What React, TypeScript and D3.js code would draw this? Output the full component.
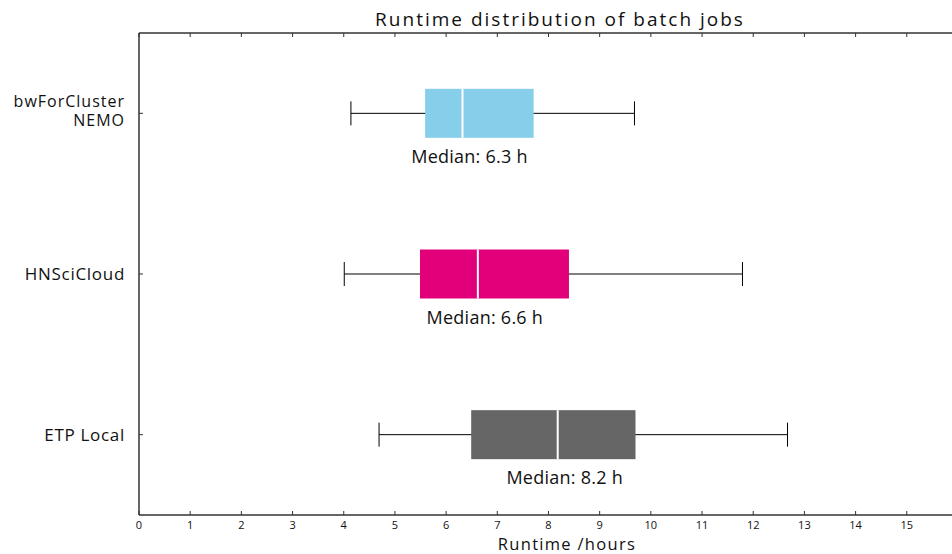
import React, { useRef, useEffect } from "react";
import * as d3 from "d3";

const categories = ["bwForCluster\nNEMO", "HNSciCloud", "ETP Local"];
const whiskerLow = [4.14, 4.01, 4.69];
const q1 = [5.59, 5.49, 6.49];
const medians = [6.32, 6.62, 8.18];
const q3 = [7.71, 8.4, 9.7];
const whiskerHigh = [9.68, 11.79, 12.67];
const medianLabels = ["Median: 6.3 h", "Median: 6.6 h", "Median: 8.2 h"];
const boxColors = ["#87CEEB", "#E2007A", "#666666"];
const xTicks = [0, 1, 2, 3, 4, 5, 6, 7, 8, 9, 10, 11, 12, 13, 14, 15];

const FONT = "'Open Sans', 'DejaVu Sans', sans-serif";

const App: React.FC = () => {
  const ref = useRef<SVGSVGElement | null>(null);

  useEffect(() => {
    document.body.style.margin = "0";
    if (!ref.current) return;
    const svg = d3.select(ref.current);
    svg.selectAll("*").remove();

    const width = 952;
    const height = 554;
    const left = 139;
    const top = 33;
    const bottom = 515;

    const x = d3.scaleLinear().domain([0, 16.45]).range([left, 981]);
    const y = d3.scaleBand().domain(categories).range([top, bottom]).padding(0);

    svg.attr("width", width).attr("height", height).style("font-family", FONT)
      .style("display", "block");

    const axisColor = "#333";

    // frame lines
    svg.append("line").attr("x1", left).attr("x2", width).attr("y1", top).attr("y2", top)
      .attr("stroke", axisColor).attr("stroke-width", 1.5);
    svg.append("line").attr("x1", left).attr("x2", width).attr("y1", bottom).attr("y2", bottom)
      .attr("stroke", axisColor).attr("stroke-width", 1.5);
    svg.append("line").attr("x1", left).attr("x2", left).attr("y1", top).attr("y2", bottom)
      .attr("stroke", axisColor).attr("stroke-width", 1.5);

    // x ticks (bottom, pointing up) and mirrored top ticks
    const tg = svg.append("g");
    tg.selectAll(".tb").data(xTicks).enter().append("line")
      .attr("x1", (d) => x(d)).attr("x2", (d) => x(d))
      .attr("y1", bottom).attr("y2", bottom - 4)
      .attr("stroke", axisColor).attr("stroke-width", 1);
    tg.selectAll(".tt").data(xTicks).enter().append("line")
      .attr("x1", (d) => x(d)).attr("x2", (d) => x(d))
      .attr("y1", top).attr("y2", top + 4)
      .attr("stroke", axisColor).attr("stroke-width", 1);
    tg.selectAll(".tl").data(xTicks).enter().append("text")
      .attr("x", (d) => x(d)).attr("y", bottom + 14)
      .attr("text-anchor", "middle").style("font-size", "11px").attr("fill", "#111")
      .text((d) => d);

    // y ticks and labels
    svg.selectAll(".yt").data(categories).enter().append("line")
      .attr("x1", left).attr("x2", left + 4)
      .attr("y1", (d) => y(d)! + y.bandwidth() / 2)
      .attr("y2", (d) => y(d)! + y.bandwidth() / 2)
      .attr("stroke", axisColor).attr("stroke-width", 1);
    categories.forEach((c) => {
      const lines = c.split("\n");
      const cy = y(c)! + y.bandwidth() / 2;
      lines.forEach((ln, i) => {
        const base = lines.length === 1 ? cy + 6 : cy - 6 + i * 19;
        svg.append("text").attr("x", 125).attr("y", base)
          .attr("text-anchor", "end").style("font-size", lines.length === 1 ? "17px" : "16px")
          .style("letter-spacing", lines.length === 1 ? "0.7px" : "1px")
          .attr("fill", "#111").text(ln);
      });
    });

    // boxes
    const rows = categories.map((c, i) => ({
      c, lo: whiskerLow[i], q1: q1[i], med: medians[i], q3: q3[i], hi: whiskerHigh[i],
      label: medianLabels[i], color: boxColors[i],
    }));
    const boxH = 49;
    const capH = 24;
    const g = svg.selectAll(".box").data(rows).enter().append("g")
      .attr("transform", (d) => `translate(0,${y(d.c)! + y.bandwidth() / 2})`);
    g.append("line").attr("x1", (d) => x(d.lo)).attr("x2", (d) => x(d.hi))
      .attr("y1", 0).attr("y2", 0).attr("stroke", "#000").attr("stroke-width", 1);
    g.append("line").attr("x1", (d) => x(d.lo)).attr("x2", (d) => x(d.lo))
      .attr("y1", -capH / 2).attr("y2", capH / 2).attr("stroke", "#000").attr("stroke-width", 1);
    g.append("line").attr("x1", (d) => x(d.hi)).attr("x2", (d) => x(d.hi))
      .attr("y1", -capH / 2).attr("y2", capH / 2).attr("stroke", "#000").attr("stroke-width", 1);
    g.append("rect").attr("x", (d) => x(d.q1)).attr("width", (d) => x(d.q3) - x(d.q1))
      .attr("y", -boxH / 2).attr("height", boxH).attr("fill", (d) => d.color);
    g.append("line").attr("x1", (d) => x(d.med)).attr("x2", (d) => x(d.med))
      .attr("y1", -boxH / 2).attr("y2", boxH / 2).attr("stroke", "#fff").attr("stroke-width", 2);
    g.append("text").attr("x", (d) => x(d.med) + 7).attr("y", boxH / 2 + 25)
      .attr("text-anchor", "middle").style("font-size", "18px")
      .style("letter-spacing", "0.25px").attr("fill", "#111")
      .text((d) => d.label);

    // titles
    svg.append("text").attr("x", 560).attr("y", 26).attr("text-anchor", "middle")
      .style("font-size", "19px").style("letter-spacing", "2px").attr("fill", "#111")
      .text("Runtime distribution of batch jobs");
    svg.append("text").attr("x", 567).attr("y", 550).attr("text-anchor", "middle")
      .style("font-size", "16.5px").style("letter-spacing", "1.3px").attr("fill", "#111")
      .text("Runtime /hours");
  }, []);

  return <svg ref={ref}></svg>;
};

export default App;
